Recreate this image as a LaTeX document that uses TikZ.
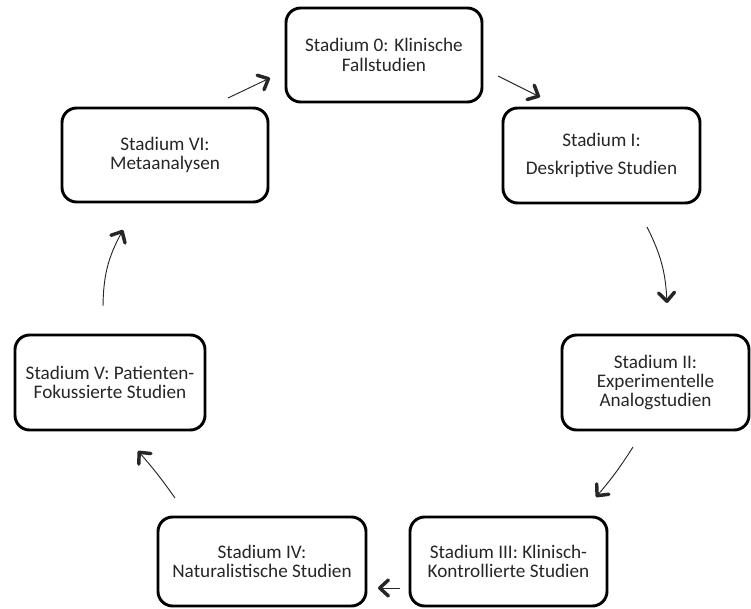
\documentclass[tikz,border=0pt]{standalone}
\usepackage{fontspec}
\setmainfont{Carlito}
\usetikzlibrary{arrows.meta}

\begin{document}
\begin{tikzpicture}[x=0.75pt,y=-0.75pt,
  stadium/.style={draw,line width=2.2pt,rounded corners=11pt,align=center,
    text=black!85,font=\fontsize{14.4}{14.5}\selectfont,inner sep=0pt},
  flow/.style={line width=0.7pt,draw=black!85,
    -{Straight Barb[length=6.5pt,width=12pt,line width=2.6pt,round]}}]
\useasboundingbox (0,0) rectangle (751,609);
% stages
\node[stadium,minimum width=147pt,minimum height=70.5pt] (s0) at (384,55) {Stadium 0: Klinische\\Fallstudien};
\node[stadium,minimum width=147.75pt,minimum height=71.25pt] (s1) at (601.5,155.5) {Stadium I:\\[7pt]Deskriptive Studien};
\node[stadium,minimum width=140.25pt,minimum height=71.25pt] (s2) at (655.5,382.5) {Stadium II:\\Experimentelle\\Analogstudien};
\node[stadium,minimum width=147.75pt,minimum height=66.75pt] (s3) at (508.5,561.5) {Stadium III: Klinisch-\\Kontrollierte Studien};
\node[stadium,minimum width=156pt,minimum height=66.75pt] (s4) at (262,561.5) {Stadium IV:\\Naturalistische Studien};
\node[stadium,minimum width=142.5pt,minimum height=71.25pt] (s5) at (110,382.5) {Stadium V: Patienten-\\Fokussierte Studien};
\node[stadium,minimum width=154.5pt,minimum height=70.5pt] (s6) at (165,155) {Stadium VI:\\Metaanalysen};
% arrow ends
\coordinate (t01) at (498,76);  \coordinate (h01) at (540,97);
\coordinate (t12) at (647,227); \coordinate (h12) at (667,303);
\coordinate (t23) at (633,447); \coordinate (h23) at (596,497);
\coordinate (t34) at (400,588); \coordinate (h34) at (378,588);
\coordinate (t45) at (175,498); \coordinate (h45) at (138,451);
\coordinate (t56) at (103,306); \coordinate (h56) at (123,230);
\coordinate (t60) at (228,98);  \coordinate (h60) at (270,78);
% cycle
\draw[flow] (t01) -- (h01);
\draw[flow] (t12) to[bend left=12] (h12);
\draw[flow] (t23) to[bend left=4] (h23);
\draw[flow] (t34) -- (h34);
\draw[flow] (t45) to[bend right=3] (h45);
\draw[flow] (t56) to[bend left=14] (h56);
\draw[flow] (t60) -- (h60);
\end{tikzpicture}
\end{document}
